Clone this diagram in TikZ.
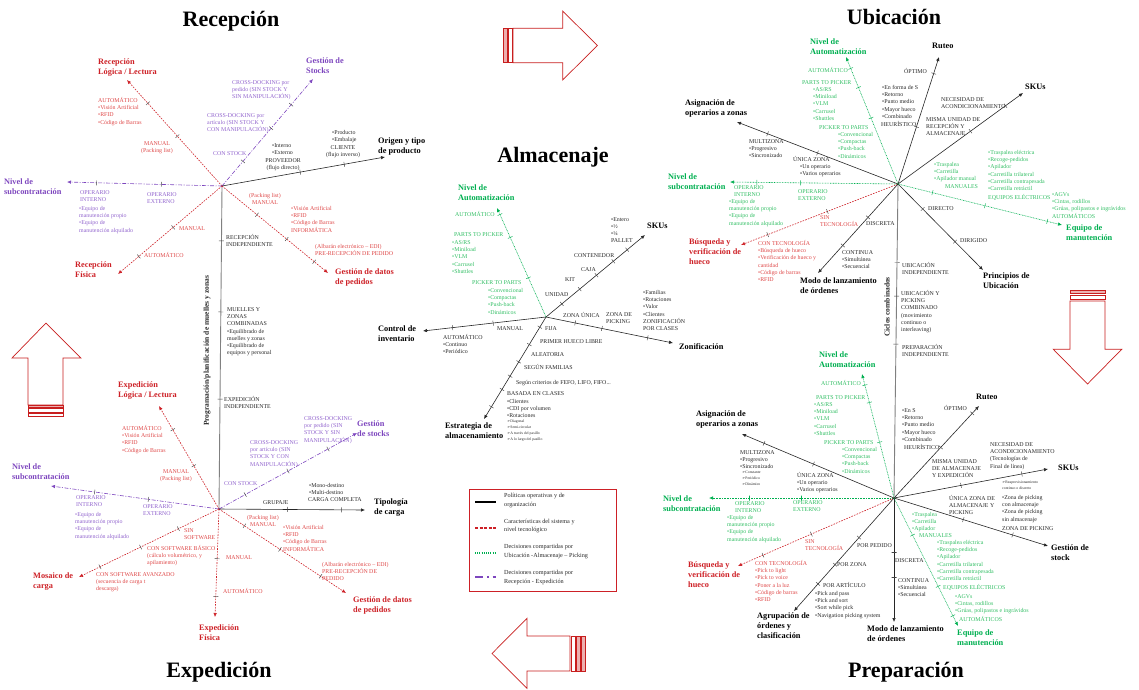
\documentclass[tikz,border=0pt]{standalone}
\usepackage{fontspec}
\setmainfont{Liberation Serif}
\newfontfamily\symf{DejaVu Sans}
\usetikzlibrary{arrows.meta}
\definecolor{rd}{RGB}{205,32,38}
\definecolor{rds}{RGB}{222,72,72}
\definecolor{pu}{RGB}{125,70,190}
\definecolor{pus}{RGB}{145,100,205}
\definecolor{gr}{RGB}{0,175,80}
\definecolor{grs}{RGB}{50,190,100}
\definecolor{ks}{RGB}{40,40,40}
\definecolor{arr}{RGB}{200,30,30}
\newcounter{nn}
\newcommand\TX[3]{\stepcounter{nn}\node[#1] (t\arabic{nn}) at (#2) {#3};}
\newcommand\TK[4][tkm]{\path (#2) -- (#3) node[#1, pos=#4, sloped]{};}
\newcommand\arw{{\symf ➢}}
\tikzset{
 sm/.style={font=\fontsize{5.9}{7.3}\selectfont, inner sep=0pt, align=left, anchor=north west},
 smw/.style={font=\fontsize{5.9}{7.3}\selectfont, inner sep=0pt, anchor=west},
 smc/.style={font=\fontsize{5.9}{7.3}\selectfont, inner sep=0pt, align=center, anchor=north},
 tn/.style={font=\fontsize{3.8}{6}\selectfont, inner sep=0pt, align=left, anchor=north west},
 lb/.style={font=\fontsize{8.3}{10}\bfseries\selectfont, inner sep=0pt, align=left, anchor=north west},
 lbw/.style={font=\fontsize{8.3}{10}\bfseries\selectfont, inner sep=0pt, anchor=west},
 ttl/.style={font=\fontsize{22}{24}\bfseries\selectfont, inner sep=0pt},
 rot/.style={font=\fontsize{7.5}{9}\bfseries\selectfont, inner sep=0pt, rotate=90, text=ks},
 lg/.style={font=\fontsize{6.2}{8.5}\selectfont, inner sep=0pt, align=left, anchor=north west, text=ks},
 kline/.style={draw=black!85, line width=0.6pt, -{Latex[length=4pt,width=3.5pt]}},
 rline/.style={draw=rd, line width=0.6pt, dash pattern=on 1.6pt off 1.2pt, -{Latex[length=4pt,width=3.5pt]}},
 gline/.style={draw=gr, line width=0.6pt, dash pattern=on 0.8pt off 0.8pt, -{Latex[length=4pt,width=3.5pt]}},
 pline/.style={draw=pu, line width=0.6pt, dash pattern=on 4pt off 1.5pt on 1pt off 1.5pt, -{Latex[length=4pt,width=3.5pt]}},
 grayaxis/.style={draw=black!50, line width=0.9pt},
 tkm/.style={draw=black!75, solid, line width=0.45pt, minimum width=0pt, minimum height=5pt, inner sep=0pt, shape=rectangle},
 tkg/.style={tkm, draw=gr},
 blk/.style={draw=arr, line width=0.7pt, fill=white},
}
\begin{document}
\begin{tikzpicture}[x=1pt,y=-1pt]
\useasboundingbox (0,0) rectangle (1139,689);
% ---------- block arrows ----------
\draw[blk] (513,28.3) -- (562.7,28.3) -- (562.7,11) -- (597.3,45.5) -- (562.7,80) -- (562.7,62.7) -- (513,62.7) -- cycle;
\draw[blk] (508.3,28.3) rectangle (512.3,62.7);
\draw[blk, fill=arr!35] (503.3,28.3) rectangle (507.3,62.7);
\draw[blk] (28,405) -- (28,358) -- (12,358) -- (46,323) -- (81,358) -- (63,358) -- (63,405) -- cycle;
\draw[blk, fill=arr!35] (28,405) rectangle (63,407.5);
\draw[blk] (28,408.5) rectangle (63,412.3);
\draw[blk] (28,413.3) rectangle (63,416.7);
\draw[blk, fill=arr!35] (1070,290) rectangle (1105,293.3);
\draw[blk] (1070,295) rectangle (1105,299.3);
\draw[blk] (1070,301) -- (1105,301) -- (1105,349.3) -- (1121.7,349.3) -- (1087.5,384) -- (1053.3,349.3) -- (1070,349.3) -- cycle;
\draw[blk] (570,636) -- (527,636) -- (527,618.3) -- (492,653.5) -- (527,688.3) -- (527,671) -- (570,671) -- cycle;
\draw[blk] (571,636) rectangle (575,671);
\draw[blk, fill=arr!35] (576,636) rectangle (580,671);
\draw[blk, fill=arr!35] (581,636) rectangle (585.5,671);
% ---------- titles ----------
\TX{ttl}{231,21}{Recepción}
\TX{ttl}{894,17}{Ubicación}
\TX{ttl}{553,157}{Almacenaje}
\TX{ttl}{219,672}{Expedición}
\TX{ttl}{906,672}{Preparación}
% ---------- hubs and tips ----------
\coordinate (R) at (222,186);
\coordinate (E) at (219,509);
\coordinate (A) at (546,317);
\coordinate (U) at (898,184);
\coordinate (P) at (894,498);
\coordinate (RLt) at (127,80);
\coordinate (RFt) at (118,274);
\coordinate (RNt) at (67,182);
\coordinate (RGt) at (313,79);
\coordinate (ROt) at (385,157);
\coordinate (RDt) at (328,273);
\coordinate (ELt) at (159,406);
\coordinate (ENt) at (51,486);
\coordinate (EMt) at (79,577);
\coordinate (EFt) at (215,617);
\coordinate (EDt) at (346,593);
\coordinate (ESt) at (357,433);
\coordinate (ETt) at (365,510);
\coordinate (ASt) at (645,235);
\coordinate (AZt) at (673,343);
\coordinate (ACt) at (423,331);
\coordinate (AEt) at (484,419);
\coordinate (AAt) at (497,208);
\coordinate (URt) at (939,57);
\coordinate (USt) at (1023,93);
\coordinate (UAt) at (737,122);
\coordinate (UNt) at (730,182);
\coordinate (UAut) at (846,57);
\coordinate (UBt) at (741,245);
\coordinate (UMt) at (818,273);
\coordinate (UPt) at (983,270);
\coordinate (UEt) at (1062,225);
\coordinate (PRt) at (979,406);
\coordinate (PSt) at (1048,469);
\coordinate (PGt) at (1048,546);
\coordinate (PAt) at (742,434);
\coordinate (PNt) at (709,498);
\coordinate (PAut) at (862,374);
\coordinate (PBt) at (738,566);
\coordinate (POt) at (794,611);
\coordinate (PMt) at (894,622);
\coordinate (PEt) at (958,626);
% ---------- axes ----------
\draw[grayaxis] (R) -- (E);
\draw[grayaxis] (U) -- (P);
% Recepción
\draw[rline] (R) -- (RLt); \TK{R}{RLt}{0.78} \TK{R}{RLt}{0.47}
\draw[rline] (R) -- (RFt); \TK{R}{RFt}{0.47} \TK{R}{RFt}{0.80}
\draw[pline] (R) -- (RNt); \TK{R}{RNt}{0.81} \TK{R}{RNt}{0.39}
\draw[pline] (R) -- (RGt); \TK{R}{RGt}{0.23} \TK{R}{RGt}{0.54} \TK{R}{RGt}{0.76}
\draw[kline] (R) -- (ROt); \TK{R}{ROt}{0.48} \TK{R}{ROt}{0.75}
\draw[rline] (R) -- (RDt); \TK{R}{RDt}{0.33} \TK{R}{RDt}{0.61} \TK{R}{RDt}{0.87}
\TK{R}{E}{0.17} \TK{R}{E}{0.39} \TK{R}{E}{0.66}
% Expedición
\draw[rline] (E) -- (ELt); \TK{E}{ELt}{0.77} \TK{E}{ELt}{0.42}
\draw[pline] (E) -- (ENt); \TK{E}{ENt}{0.74} \TK{E}{ENt}{0.42}
\draw[rline] (E) -- (EMt); \TK{E}{EMt}{0.29} \TK{E}{EMt}{0.56} \TK{E}{EMt}{0.85}
\draw[rline] (E) -- (EFt); \TK{E}{EFt}{0.46} \TK{E}{EFt}{0.81}
\draw[rline] (E) -- (EDt); \TK{E}{EDt}{0.20} \TK{E}{EDt}{0.48} \TK{E}{EDt}{0.80}
\draw[pline] (E) -- (ESt); \TK{E}{ESt}{0.19} \TK{E}{ESt}{0.50} \TK{E}{ESt}{0.79}
\draw[kline] (E) -- (ETt); \TK{E}{ETt}{0.47} \TK{E}{ETt}{0.84}
% Almacenaje
\draw[kline] (A) -- (ASt); \TK{A}{ASt}{0.16} \TK{A}{ASt}{0.34} \TK{A}{ASt}{0.51} \TK{A}{ASt}{0.68} \TK{A}{ASt}{0.82}
\draw[kline] (A) -- (AZt); \TK{A}{AZt}{0.23} \TK{A}{AZt}{0.44} \TK{A}{AZt}{0.80}
\draw[kline] (A) -- (ACt); \TK{A}{ACt}{0.76} \TK{A}{ACt}{0.43}
\draw[kline] (A) -- (AEt); \TK{A}{AEt}{0.10} \TK{A}{AEt}{0.27} \TK{A}{AEt}{0.44} \TK{A}{AEt}{0.58} \TK{A}{AEt}{0.71} \TK{A}{AEt}{0.88}
\draw[gline] (A) -- (AAt); \TK[tkg]{A}{AAt}{0.94} \TK[tkg]{A}{AAt}{0.73} \TK[tkg]{A}{AAt}{0.36}
% Ubicación
\draw[kline] (U) -- (URt); \TK{U}{URt}{0.87} \TK{U}{URt}{0.45}
\draw[kline] (U) -- (USt); \TK{U}{USt}{0.86} \TK{U}{USt}{0.58}
\draw[kline] (U) -- (UAt); \TK{U}{UAt}{0.81} \TK{U}{UAt}{0.50}
\draw[gline] (U) -- (UNt); \TK[tkg]{U}{UNt}{0.84} \TK[tkg]{U}{UNt}{0.58}
\draw[gline] (U) -- (UAut); \TK[tkg]{U}{UAut}{0.91} \TK[tkg]{U}{UAut}{0.76} \TK[tkg]{U}{UAut}{0.52}
\draw[rline] (U) -- (UBt); \TK{U}{UBt}{0.45} \TK{U}{UBt}{0.83}
\draw[kline] (U) -- (UMt); \TK{U}{UMt}{0.375} \TK{U}{UMt}{0.69}
\draw[kline] (U) -- (UPt); \TK{U}{UPt}{0.29} \TK{U}{UPt}{0.67}
\draw[gline] (U) -- (UEt); \TK[tkg]{U}{UEt}{0.21} \TK[tkg]{U}{UEt}{0.53} \TK[tkg]{U}{UEt}{0.91}
\TK{U}{P}{0.25} \TK{U}{P}{0.357} \TK{U}{P}{0.51}
% Preparación
\draw[kline] (P) -- (PRt); \TK{P}{PRt}{0.92} \TK{P}{PRt}{0.55}
\draw[kline] (P) -- (PSt); \TK{P}{PSt}{0.83} \TK{P}{PSt}{0.435}
\draw[kline] (P) -- (PGt); \TK{P}{PGt}{0.45} \TK{P}{PGt}{0.77}
\draw[kline] (P) -- (PAt); \TK{P}{PAt}{0.855} \TK{P}{PAt}{0.53}
\draw[gline] (P) -- (PNt); \TK[tkg]{P}{PNt}{0.78} \TK[tkg]{P}{PNt}{0.50}
\draw[gline] (P) -- (PAut); \TK[tkg]{P}{PAut}{0.91} \TK[tkg]{P}{PAut}{0.77} \TK[tkg]{P}{PAut}{0.45}
\draw[rline] (P) -- (PBt); \TK{P}{PBt}{0.53} \TK{P}{PBt}{0.84}
\draw[kline] (P) -- (POt); \TK{P}{POt}{0.35} \TK{P}{POt}{0.59} \TK{P}{POt}{0.76}
\draw[kline] (P) -- (PMt); \TK{P}{PMt}{0.44} \TK{P}{PMt}{0.64}
\draw[gline] (P) -- (PEt); \TK[tkg]{P}{PEt}{0.29} \TK[tkg]{P}{PEt}{0.69} \TK[tkg]{P}{PEt}{0.92}
% ---------- Recepción texts ----------
\TX{lb,text=rd}{98,59}{Recepción\\Lógica / Lectura}
\TX{sm,text=rds}{98,97}{AUTOMÁTICO\\•Visión Artificial\\•RFID\\•Código de Barras}
\TX{smc,text=rds}{157,141}{MANUAL\\(Packing list)}
\TX{lb,text=pu}{4,179}{Nivel de\\subcontratación}
\TX{sm,text=pus}{80,190}{OPERARIO\\INTERNO}
\TX{sm,text=pus}{79,206}{•Equipo de\\manutención propio\\•Equipo de\\manutención alquilado}
\TX{sm,text=pus}{147,192}{OPERARIO\\EXTERNO}
\TX{sm,text=pus}{213,151}{CON STOCK}
\TX{sm,text=pus}{207,113}{CROSS-DOCKING por\\artículo (SIN STOCK Y\\CON MANIPULACIÓN)}
\TX{sm,text=pus}{232,80}{CROSS-DOCKING por\\pedido (SIN STOCK Y\\SIN MANIPULACIÓN)}
\TX{lb,text=pu}{306,58}{Gestión de\\Stocks}
\TX{sm,text=ks}{272,143}{•Interno\\•Externo}
\TX{smc,text=ks}{283,158}{PROVEEDOR\\(flujo directo)}
\TX{sm,text=ks}{332,130}{•Producto\\•Embalaje}
\TX{smc,text=ks}{343,145}{CLIENTE\\(flujo inverso)}
\TX{lb}{378,138}{Origen y tipo\\de producto}
\TX{smc,text=rds}{265,193}{(Packing list)\\MANUAL}
\TX{sm,text=rds}{291,206}{•Visión Artificial\\•RFID\\•Código de Barras\\INFORMÁTICA}
\TX{sm,text=rds}{315,244}{(Albarán electrónico – EDI)\\PRE-RECEPCIÓN DE PEDIDO}
\TX{lb,text=rd}{335,269}{Gestión de datos\\de pedidos}
\TX{smw,text=rds}{179,229}{MANUAL}
\TX{smw,text=rds}{144,255}{AUTOMÁTICO}
\TX{lb,text=rd}{75,262}{Recepción\\Física}
\TX{sm,text=ks}{226,234}{RECEPCIÓN\\INDEPENDIENTE}
\TX{sm,text=ks}{227,307}{MUELLES Y\\ZONAS\\COMBINADAS\\•Equilibrado de\\muelles y zonas\\•Equilibrado de\\equipos y personal}
\TX{sm,text=ks}{224,396}{EXPEDICIÓN\\INDEPENDIENTE}
\TX{rot}{207,351}{Programación/planificación de muelles y zonas}
% ---------- Expedición texts ----------
\TX{lb,text=rd}{118,382}{Expedición\\Lógica / Lectura}
\TX{sm,text=rds}{122,425}{AUTOMÁTICO\\•Visión Artificial\\•RFID\\•Código de Barras}
\TX{smc,text=rds}{176,469}{MANUAL\\(Packing list)}
\TX{lb,text=pu}{12,464}{Nivel de\\subcontratación}
\TX{sm,text=pus}{76,495}{OPERARIO\\INTERNO}
\TX{sm,text=pus}{75,512}{•Equipo de\\manutención propio\\•Equipo de\\manutención alquilado}
\TX{sm,text=pus}{143,504}{OPERARIO\\EXTERNO}
\TX{sm,text=pus}{224,481}{CON STOCK}
\TX{sm,text=pus}{250,440}{CROSS-DOCKING\\por artículo (SIN\\STOCK Y CON\\MANIPULACIÓN)}
\TX{sm,text=pus}{304,416}{CROSS-DOCKING\\por pedido (SIN\\STOCK Y SIN\\MANIPULACIÓN)}
\TX{lb,text=pu}{357,421}{Gestión\\de stocks}
\TX{smw,text=ks}{263,503}{GRUPAJE}
\TX{sm,text=ks}{309,483}{•Mono-destino\\•Multi-destino}
\TX{smw,text=ks}{308,500}{CARGA COMPLETA}
\TX{lb}{374,499}{Tipología\\de carga}
\TX{smc,text=rds}{263,515}{(Packing list)\\MANUAL}
\TX{sm,text=rds}{283,525}{•Visión Artificial\\•RFID\\•Código de Barras\\INFORMÁTICA}
\TX{sm,text=rds}{322,562}{(Albarán electrónico – EDI)\\PRE-RECEPCIÓN DE\\PEDIDO}
\TX{lb,text=rd}{353,597}{Gestión de datos\\de pedidos}
\TX{sm,text=rds}{184,528}{SIN\\SOFTWARE}
\TX{sm,text=rds}{147,545}{CON SOFTWARE BÁSICO\\(cálculo volumétrico, y\\apilamiento)}
\TX{sm,text=rds}{96,572}{CON SOFTWARE AVANZADO\\(secuencia de carga t\\descarga)}
\TX{lb,text=rd}{33,573}{Mosaico de\\carga}
\TX{smw,text=rds}{226,558}{MANUAL}
\TX{smw,text=rds}{223,591}{AUTOMÁTICO}
\TX{lb,text=rd}{199,625}{Expedición\\Física}
% ---------- Almacenaje texts ----------
\TX{lb,text=gr}{458,185}{Nivel de\\Automatización}
\TX{smw,text=grs}{455,214}{AUTOMÁTICO}
\TX{smw,text=grs}{454,235}{PARTS TO PICKER}
\TX{sm,text=grs}{452,240}{•AS/RS\\•Miniload\\•VLM\\•Carrusel\\•Shuttles}
\TX{smw,text=grs}{472,283}{PICKER TO PARTS}
\TX{sm,text=grs}{488,288}{•Convencional\\•Compactas\\•Push-back\\•Dinámicos}
\TX{sm,text=ks}{611,217}{•Entero\\•½\\•¼\\PALLET}
\TX{lbw}{647,226}{SKUs}
\TX{smw,text=ks}{574,256}{CONTENEDOR}
\TX{smw,text=ks}{581,270}{CAJA}
\TX{smw,text=ks}{565,280}{KIT}
\TX{smw,text=ks}{545,295}{UNIDAD}
\TX{smw,text=ks}{563,315}{ZONA ÚNICA}
\TX{sm,text=ks}{606,312}{ZONA DE\\PICKING}
\TX{sm,text=ks}{643,290}{•Familias\\•Rotaciones\\•Valor\\•Clientes\\ZONIFICACIÓN\\POR CLASES}
\TX{lbw}{679,347}{Zonificación}
\TX{lb}{378,326}{Control de\\inventario}
\TX{sm,text=ks}{443,334}{AUTOMÁTICO\\•Continuo\\•Periódico}
\TX{smw,text=ks}{497,329}{MANUAL}
\TX{smw,text=ks}{545,329}{FIJA}
\TX{smw,text=ks}{540,342}{PRIMER HUECO LIBRE}
\TX{smw,text=ks}{531,355}{ALEATORIA}
\TX{smw,text=ks}{524,367}{SEGÚN FAMILIAS}
\TX{smw,text=ks}{516,383}{Según criterios de FEFO, LIFO, FIFO...}
\TX{smw,text=ks}{507,394}{BASADA EN CLASES}
\TX{sm,text=ks}{507,399}{•Clientes\\•CDI por volumen\\•Rotaciones}
\TX{tn,text=ks}{507,420}{\arw Diagonal\\\arw Semi-circular\\\arw A través del pasillo\\\arw A lo largo del pasillo}
\TX{lb}{445,423}{Estrategia de\\almacenamiento}
% ---------- Ubicación texts ----------
\TX{lbw}{932,46}{Ruteo}
\TX{smw,text=ks}{904,71}{ÓPTIMO}
\TX{sm,text=ks}{882,85}{•En forma de S\\•Retorno\\•Punto medio\\•Mayor hueco\\•Combinado}
\TX{smw,text=ks}{881,124}{HEURÍSTICO}
\TX{lbw}{1025,87}{SKUs}
\TX{sm,text=ks}{941,97}{NECESIDAD DE\\ACONDICIONAMIENTO}
\TX{sm,text=ks}{926,117}{MISMA UNIDAD DE\\RECEPCIÓN Y\\ALMACENAJE}
\TX{lb}{685,100}{Asignación de\\operarios a zonas}
\TX{sm,text=ks}{749,139}{MULTIZONA\\•Progresivo\\•Sincronizado}
\TX{smw,text=ks}{793,159}{ÚNICA ZONA}
\TX{sm,text=ks}{800,164}{•Un operario\\•Varios operarios}
\TX{lb,text=gr}{668,174}{Nivel de\\subcontratación}
\TX{sm,text=grs}{734,185}{OPERARIO\\INTERNO}
\TX{sm,text=grs}{729,199}{•Equipo de\\manutención propio\\•Equipo de\\manutención alquilado}
\TX{sm,text=grs}{798,189}{OPERARIO\\EXTERNO}
\TX{lb,text=gr}{810,39}{Nivel de\\Automatización}
\TX{smw,text=grs}{808,70}{AUTOMÁTICO}
\TX{smw,text=grs}{802,83}{PARTS TO PICKER}
\TX{sm,text=grs}{813,87}{•AS/RS\\•Miniload\\•VLM\\•Carrusel\\•Shuttles}
\TX{smw,text=grs}{819,128}{PICKER TO PARTS}
\TX{sm,text=grs}{838,132}{•Convencional\\•Compactas\\•Push-back\\•Dinámicos}
\TX{sm,text=rds}{820,215}{SIN\\TECNOLOGÍA}
\TX{sm,text=rds}{758,240}{CON TECNOLOGÍA\\•Búsqueda de hueco\\•Verificación de hueco y\\cantidad\\•Código de barras\\•RFID}
\TX{lb,text=rd}{689,239}{Búsqueda y\\verificación de\\hueco}
\TX{smw,text=ks}{866,224}{DISCRETA}
\TX{sm,text=ks}{842,250}{CONTINUA\\•Simultánea\\•Secuencial}
\TX{lb}{800,278}{Modo de lanzamiento\\de órdenes}
\TX{smw,text=ks}{928,209}{DIRECTO}
\TX{smw,text=ks}{960,241}{DIRIGIDO}
\TX{lb}{983,273}{Principios de\\Ubicación}
\TX{sm,text=grs}{934,162}{•Traspalea\\•Carretilla\\•Apilador manual}
\TX{smw,text=grs}{945,187}{MANUALES}
\TX{sm,text=grs}{988,150}{•Traspalea eléctrica\\•Recoge-pedidos\\•Apilador\\•Carretilla trilateral\\•Carretilla contrapesada\\•Carretilla retráctil}
\TX{smw,text=grs}{988,197}{EQUIPOS ELÉCTRICOS}
\TX{sm,text=grs}{1052,192}{•AGVs\\•Cintas, rodillos\\•Grúas, polipastos  e ingrávidos}
\TX{smw,text=grs}{1052,216}{AUTOMÁTICOS}
\TX{lb,text=gr}{1066,225}{Equipo de\\manutención}
\TX{sm,text=ks}{902,262}{UBICACIÓN\\INDEPENDIENTE}
\TX{sm,text=ks}{901,290}{UBICACIÓN Y\\PICKING\\COMBINADO\\(movimiento\\continuo o\\interleaving)}
\TX{sm,text=ks}{902,344}{PREPARACIÓN\\INDEPENDIENTE}
\TX{rot}{887,307}{Ciclos combinados}
% ---------- Preparación texts ----------
\TX{lbw}{976,397}{Ruteo}
\TX{smw,text=ks}{944,408}{ÓPTIMO}
\TX{sm,text=ks}{902,408}{•En S\\•Retorno\\•Punto medio\\•Mayor hueco\\•Combinado}
\TX{smw,text=ks}{904,447}{HEURÍSTICO}
\TX{sm,text=ks}{990,442}{NECESIDAD DE\\ACONDICIONAMIENTO\\(Tecnologías de\\Final de línea)}
\TX{lbw}{1058,468}{SKUs}
\TX{sm,text=ks}{932,459}{MISMA UNIDAD\\DE  ALMACENAJE\\Y EXPEDICIÓN}
\TX{tn,text=ks}{1002,481}{\arw Reaprovisionamiento\\continuo o discreto}
\TX{sm,text=ks}{1002,495}{•Zona de picking\\con almacenaje\\•Zona de picking\\sin almacenaje}
\TX{sm,text=ks}{949,495}{ÚNICA ZONA DE\\ALMACENAJE Y\\PICKING}
\TX{smw,text=ks}{1002,529}{ZONA DE PICKING}
\TX{lb}{1051,545}{Gestión de\\stock}
\TX{lb}{696,411}{Asignación de\\operarios a zonas}
\TX{sm,text=ks}{740,450}{MULTIZONA\\•Progresivo\\•Sincronizado}
\TX{tn,text=ks}{742,471}{\arw Constante\\\arw Periódico\\\arw Dinámico}
\TX{smw,text=ks}{797,475}{ÚNICA ZONA}
\TX{sm,text=ks}{797,480}{•Un operario\\•Varios operarios}
\TX{lb,text=gr}{663,496}{Nivel de\\subcontratación}
\TX{sm,text=grs}{735,501}{OPERARIO\\INTERNO}
\TX{sm,text=grs}{727,515}{•Equipo de\\manutención propio\\•Equipo de\\manutención alquilado}
\TX{sm,text=grs}{793,500}{OPERARIO\\EXTERNO}
\TX{lb,text=gr}{819,352}{Nivel de\\Automatización}
\TX{smw,text=grs}{821,383}{AUTOMÁTICO}
\TX{smw,text=grs}{816,398}{PARTS TO PICKER}
\TX{sm,text=grs}{814,402}{•AS/RS\\•Miniload\\•VLM\\•Carrusel\\•Shuttles}
\TX{smw,text=grs}{824,443}{PICKER TO PARTS}
\TX{sm,text=grs}{842,447}{•Convencional\\•Compactas\\•Push-back\\•Dinámicos}
\TX{sm,text=rds}{805,539}{SIN\\TECNOLOGÍA}
\TX{sm,text=rds}{755,560}{CON TECNOLOGÍA\\•Pick to light\\•Pick to voice\\•Poner a la luz\\•Código de barras\\•RFID}
\TX{lb,text=rd}{688,562}{Búsqueda y\\verificación de\\hueco}
\TX{smw,text=ks}{857,546}{POR PEDIDO}
\TX{smw,text=ks}{837,565}{POR ZONA}
\TX{smw,text=ks}{823,585}{POR ARTÍCULO}
\TX{sm,text=ks}{815,591}{•Pick and pass\\•Pick and sort\\•Sort while pick\\•Navigation picking system}
\TX{lb}{757,613}{Agrupación de\\órdenes y\\clasificación}
\TX{smw,text=ks}{895,561}{DISCRETA}
\TX{sm,text=ks}{898,578}{CONTINUA\\•Simultánea\\•Secuencial}
\TX{lb}{867,626}{Modo de lanzamiento\\de órdenes}
\TX{sm,text=grs}{912,512}{•Traspalea\\•Carretilla\\•Apilador}
\TX{smw,text=grs}{919,536}{MANUALES}
\TX{sm,text=grs}{937,540}{•Traspalea eléctrica\\•Recoge-pedidos\\•Apilador\\•Carretilla trilateral\\•Carretilla contrapesada\\•Carretilla retráctil}
\TX{smw,text=grs}{943,587}{EQUIPOS ELÉCTRICOS}
\TX{sm,text=grs}{955,594}{•AGVs\\•Cintas, rodillos\\•Grúas, polipastos  e ingrávidos}
\TX{smw,text=grs}{959,619}{AUTOMÁTICOS}
\TX{lb,text=gr}{957,630}{Equipo de\\manutención}
% ---------- legend ----------
\node[draw=rd, line width=1pt, minimum width=147pt, minimum height=102pt, anchor=north west, inner sep=0pt] (leg) at (469,489) {};
\draw[black, line width=1.6pt] (475,502) -- (496,502);
\draw[rd, line width=1.2pt, dash pattern=on 3pt off 1.5pt] (475,528) -- (496,528);
\draw[gr, line width=1.2pt, dash pattern=on 1pt off 1.2pt] (475,553) -- (496,553);
\draw[pu, line width=1.4pt, dash pattern=on 8pt off 4pt on 1.5pt off 4pt] (475,577) -- (496,577);
\TX{lg}{504,493}{Políticas operativas y de\\organización}
\TX{lg}{504,518.5}{Características del sistema y\\nivel tecnológico}
\TX{lg}{504,544}{Decisiones compartidas por\\Ubicación -Almacenaje – Picking}
\TX{lg}{504,570}{Decisiones compartidas por\\Recepción - Expedición}
\end{tikzpicture}
\end{document}
